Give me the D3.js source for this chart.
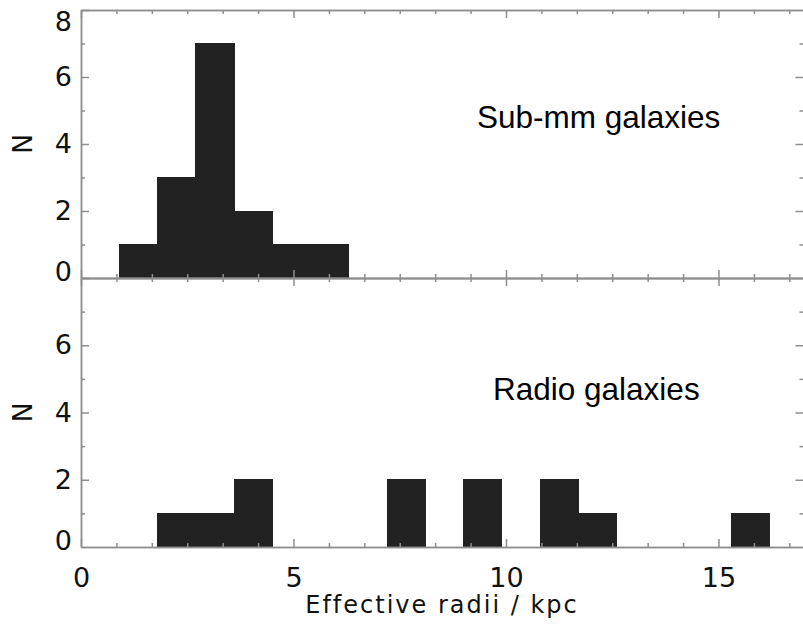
<!DOCTYPE html>
<html>
<head>
<meta charset="utf-8">
<script src="https://cdn.jsdelivr.net/npm/d3@7"></script>
<style>
  html, body { margin: 0; padding: 0; background: #fff; }
  svg { display: block; }
  .tick text { font-family: "DejaVu Sans", sans-serif; font-size: 27px; fill: #111; }
  .domain, .tick line { stroke: #8e8e8e; stroke-width: 1.5px; }
  .bars { shape-rendering: crispEdges; }
</style>
</head>
<body>
<svg id="chart" width="803" height="632"></svg>
<script>
// Histogram bins (lower edge in kpc) and counts for each sample
const binWidth = 0.9;
const submmBinStart = [0.9, 1.8, 2.7, 3.6, 4.5, 5.4];
const submmCounts   = [1, 3, 7, 2, 1, 1];
const radioBinStart = [1.8, 2.7, 3.6, 7.2, 9.0, 10.8, 11.7, 15.3];
const radioCounts   = [1, 1, 2, 2, 2, 2, 1, 1];

const xMajorTicks = [0, 5, 10, 15];
const topYTicks = [0, 2, 4, 6, 8];
const botYTicks = [0, 2, 4, 6];
const yMinorTicks = [1, 3, 5, 7];

const panelLabels = ["Sub-mm galaxies", "Radio galaxies"];
const xTitle = "Effective radii / kpc";
const yTitle = "N";

const svg = d3.select("#chart");

const left = 81, right = 803.5;
const x = d3.scaleLinear().domain([0, 17]).range([left, right]);
const yTop = d3.scaleLinear().domain([0, 8]).range([278, 10]);
const yBot = d3.scaleLinear().domain([0, 8]).range([547, 278]);

// minor x ticks every 5/6 kpc, skipping the labelled ones
const xMinorTicks = d3.range(0, 17.001, 5 / 6)
  .filter(v => Math.abs(v / 5 - Math.round(v / 5)) > 1e-6);

const majorLen = 8, minorLen = 4;

function drawPanel(y, starts, counts, yLabels) {
  const bins = starts.map((s, i) => ({ x0: s, x1: s + binWidth, n: counts[i] }));

  svg.append("g").attr("class", "bars").selectAll("rect").data(bins).join("rect")
    .attr("x", d => x(d.x0))
    .attr("width", d => x(d.x1) - x(d.x0))
    .attr("y", d => y(d.n))
    .attr("height", d => y(0) - y(d.n))
    .attr("fill", "#222")
    .attr("stroke", "#222")
    .attr("stroke-width", 1);

  const [y0, y1] = y.range();

  // bottom axis (ticks point up into the panel)
  svg.append("g").attr("transform", `translate(0,${y0})`)
    .call(d3.axisBottom(x).tickValues(xMinorTicks).tickSizeInner(-minorLen).tickSizeOuter(0).tickFormat(""));
  const bottomMajor = svg.append("g").attr("transform", `translate(0,${y0})`)
    .call(d3.axisBottom(x).tickValues(xMajorTicks).tickSizeInner(-majorLen).tickSizeOuter(0).tickPadding(21));

  // top axis (ticks point down)
  svg.append("g").attr("transform", `translate(0,${y1})`)
    .call(d3.axisTop(x).tickValues(xMinorTicks).tickSizeInner(-minorLen).tickSizeOuter(0).tickFormat(""));
  svg.append("g").attr("transform", `translate(0,${y1})`)
    .call(d3.axisTop(x).tickValues(xMajorTicks).tickSizeInner(-majorLen).tickSizeOuter(0).tickFormat(""));

  // left axis with labels
  svg.append("g").attr("transform", `translate(${left},0)`)
    .call(d3.axisLeft(y).tickValues(yMinorTicks).tickSizeInner(-minorLen).tickSizeOuter(0).tickFormat(""));
  const leftMajor = svg.append("g").attr("transform", `translate(${left},0)`)
    .call(d3.axisLeft(y).tickValues([2, 4, 6, 8]).tickSizeInner(-majorLen).tickSizeOuter(0).tickPadding(9)
      .tickFormat(d => yLabels.includes(d) ? d : ""));
  // zero label sits just above the baseline
  svg.append("g").attr("transform", `translate(${left},0)`)
    .call(d3.axisLeft(y).tickValues([0]).tickSize(0).tickPadding(9))
    .call(g => g.select(".domain").remove())
    .selectAll("text").attr("transform", "translate(0,-6)");
  leftMajor.selectAll(".tick text").filter(d => d === 8).attr("transform", "translate(0,12)");

  // right axis: inward ticks only, frame edge falls at the border
  svg.append("g").attr("transform", `translate(${right},0)`)
    .call(d3.axisRight(y).tickValues(yMinorTicks).tickSizeInner(-minorLen).tickSizeOuter(0).tickFormat(""))
    .call(g => g.select(".domain").remove());
  svg.append("g").attr("transform", `translate(${right},0)`)
    .call(d3.axisRight(y).tickValues([2, 4, 6]).tickSizeInner(-majorLen).tickSizeOuter(0).tickFormat(""))
    .call(g => g.select(".domain").remove());

  // N title
  svg.append("text")
    .attr("transform", `translate(32,${(y0 + y1) / 2}) rotate(-90)`)
    .attr("text-anchor", "middle")
    .attr("font-family", "DejaVu Sans, sans-serif")
    .attr("font-size", 27)
    .attr("fill", "#111")
    .text(yTitle);

  return bottomMajor;
}

const topBottom = drawPanel(yTop, submmBinStart, submmCounts, topYTicks);
topBottom.selectAll(".tick text").remove();
drawPanel(yBot, radioBinStart, radioCounts, botYTicks);

// panel annotations
svg.append("text")
  .attr("x", 477).attr("y", 128)
  .attr("font-family", "Liberation Sans, Arial, sans-serif")
  .attr("font-size", 31.5)
  .attr("fill", "#000")
  .text(panelLabels[0]);
svg.append("text")
  .attr("x", 493).attr("y", 400)
  .attr("font-family", "Liberation Sans, Arial, sans-serif")
  .attr("font-size", 31.5)
  .attr("fill", "#000")
  .text(panelLabels[1]);

// x axis title
svg.append("text")
  .attr("x", 442).attr("y", 613)
  .attr("text-anchor", "middle")
  .attr("font-family", "DejaVu Sans, sans-serif")
  .attr("font-size", 24)
  .attr("letter-spacing", "2px")
  .attr("fill", "#111")
  .text(xTitle);
</script>
</body>
</html>
